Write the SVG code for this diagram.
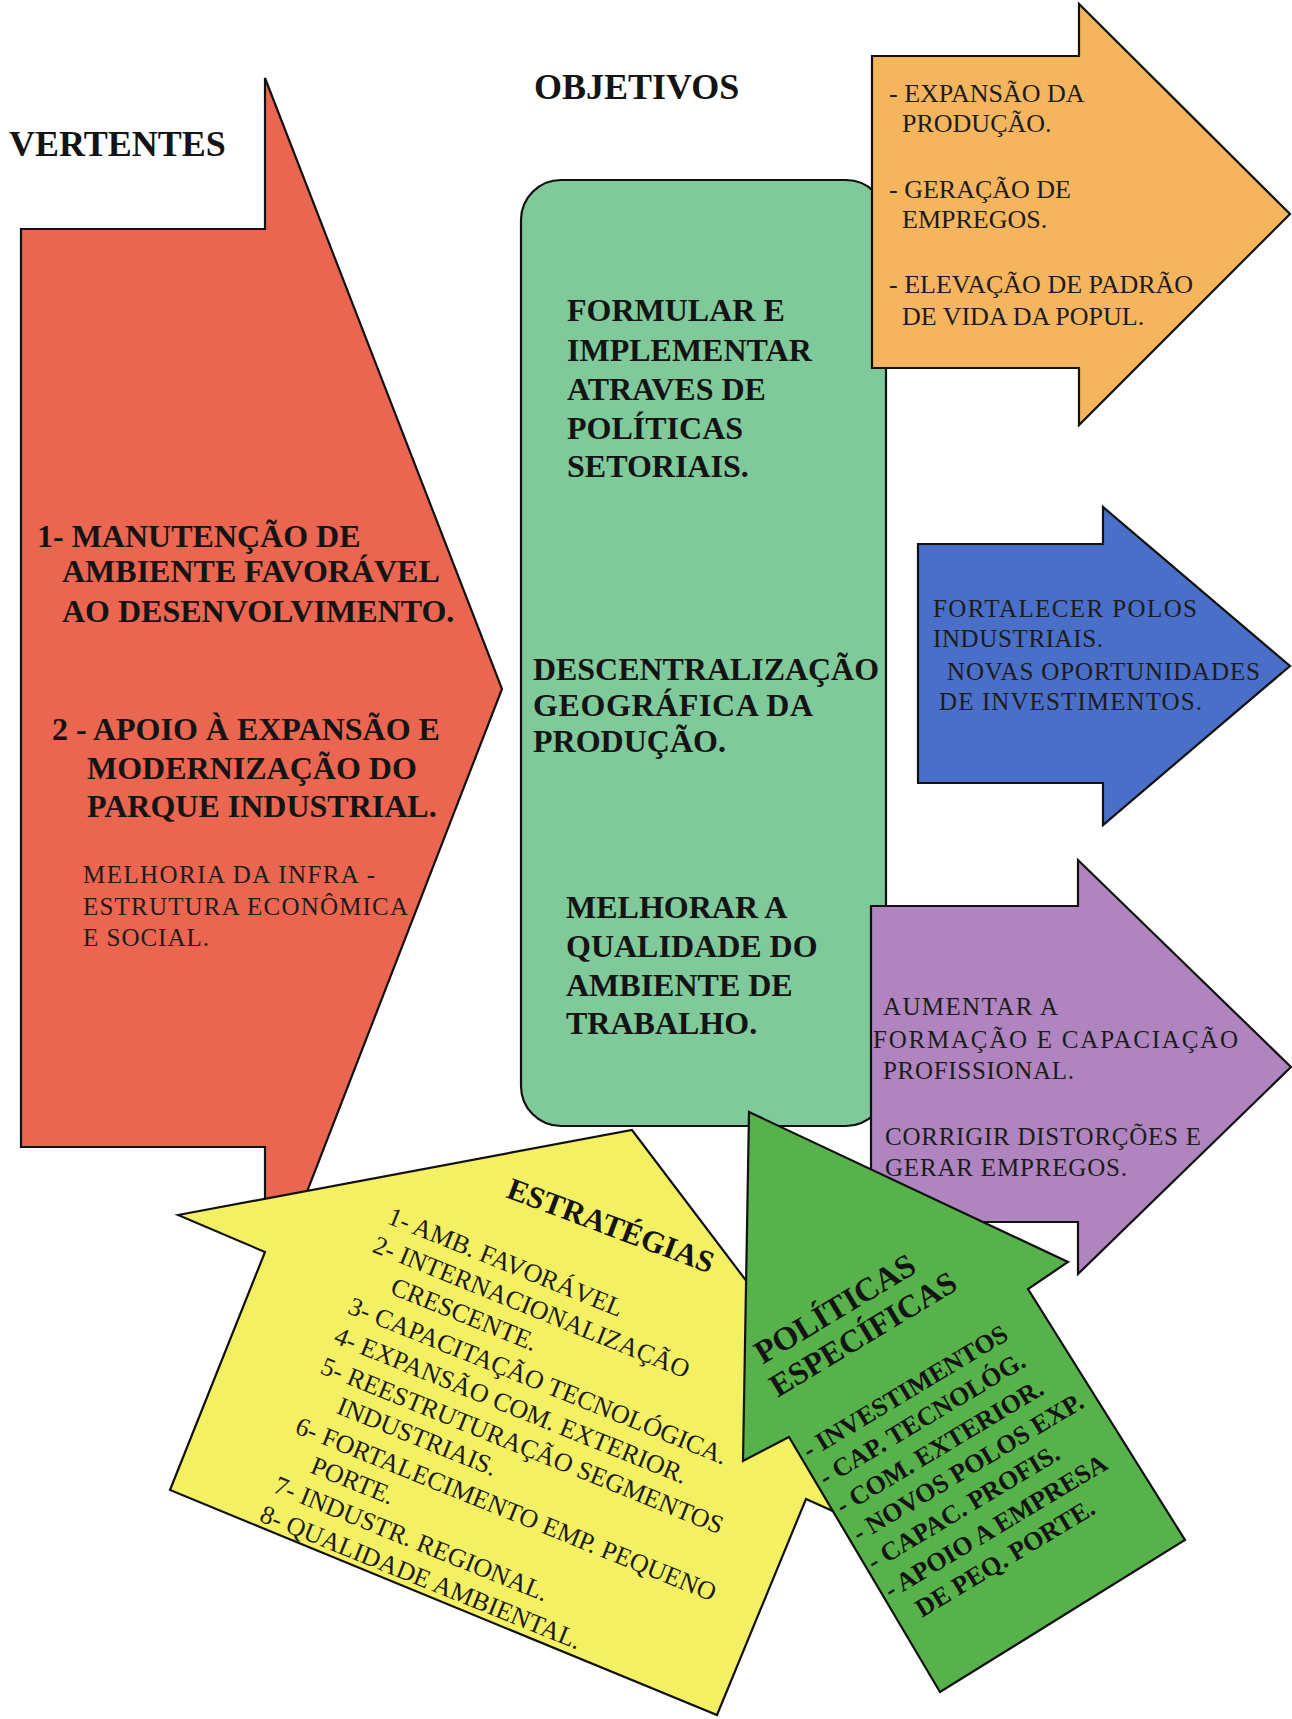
<svg xmlns="http://www.w3.org/2000/svg" width="1292" height="1719" viewBox="0 0 1292 1719">
<style>
.shape{stroke:#111;stroke-width:2.2;stroke-linejoin:miter}
.b{font-family:"Liberation Serif","Times New Roman",serif;font-weight:bold;fill:#141414}
.r{font-family:"Liberation Serif","Times New Roman",serif;fill:#1c1c1c}
.h{font-size:36px}
.t32{font-size:32px}
.t26{font-size:26px}
.t25{font-size:25px}
</style>
<rect width="1292" height="1719" fill="#ffffff"/>
<g id="label-vertentes"><text class="b h" x="9" y="156">VERTENTES</text></g>
<g id="label-objetivos"><text class="b h" x="534" y="99">OBJETIVOS</text></g>

<g id="vertentes">
<polygon class="shape" fill="#EA6650" points="21,229 265,229 265,78 502,689 265,1300 265,1147 21,1147"/>
<text class="b t32" x="37" y="547">1- MANUTENÇÃO DE</text>
<text class="b t32" x="62" y="582">AMBIENTE FAVORÁVEL</text>
<text class="b t32" x="62" y="622">AO DESENVOLVIMENTO.</text>
<text class="b t32" x="52" y="740">2 - APOIO À EXPANSÃO E</text>
<text class="b t32" x="87" y="779">MODERNIZAÇÃO DO</text>
<text class="b t32" x="87" y="817">PARQUE INDUSTRIAL.</text>
<text class="r t25" x="83" y="883" textLength="292" lengthAdjust="spacing">MELHORIA DA INFRA -</text>
<text class="r t25" x="83" y="915" textLength="325" lengthAdjust="spacing">ESTRUTURA ECONÔMICA</text>
<text class="r t25" x="83" y="946" textLength="126" lengthAdjust="spacing">E SOCIAL.</text>
</g>

<g id="objetivos">
<rect class="shape" fill="#80C99A" x="521" y="180" width="365" height="946" rx="40" ry="40"/>
<text class="b t32" x="567" y="321">FORMULAR E</text>
<text class="b t32" x="567" y="361">IMPLEMENTAR</text>
<text class="b t32" x="567" y="400">ATRAVES DE</text>
<text class="b t32" x="567" y="439">POLÍTICAS</text>
<text class="b t32" x="567" y="477">SETORIAIS.</text>
<text class="b t32" x="533" y="680" textLength="346" lengthAdjust="spacingAndGlyphs">DESCENTRALIZAÇÃO</text>
<text class="b t32" x="533" y="716" textLength="280" lengthAdjust="spacing">GEOGRÁFICA DA</text>
<text class="b t32" x="533" y="752">PRODUÇÃO.</text>
<text class="b t32" x="566" y="918">MELHORAR A</text>
<text class="b t32" x="566" y="957">QUALIDADE DO</text>
<text class="b t32" x="566" y="996">AMBIENTE DE</text>
<text class="b t32" x="566" y="1034">TRABALHO.</text>
</g>

<g id="objetivo-producao">
<polygon class="shape" fill="#F4B55E" points="872,56 1079,56 1079,4 1290,214 1079,425 1079,368 872,368"/>
<text class="r t26" x="889" y="102">- EXPANSÃO DA</text>
<text class="r t26" x="902" y="132">PRODUÇÃO.</text>
<text class="r t26" x="889" y="198">- GERAÇÃO DE</text>
<text class="r t26" x="902" y="228">EMPREGOS.</text>
<text class="r t26" x="889" y="293">- ELEVAÇÃO DE PADRÃO</text>
<text class="r t26" x="902" y="325">DE VIDA DA POPUL.</text>
</g>

<g id="objetivo-polos">
<polygon class="shape" fill="#4A6FC8" points="918,544 1103,544 1103,507 1290,666 1103,825 1103,783 918,783"/>
<text class="r t25" x="933" y="617" textLength="264" lengthAdjust="spacing">FORTALECER POLOS</text>
<text class="r t25" x="933" y="647" textLength="170" lengthAdjust="spacing">INDUSTRIAIS.</text>
<text class="r t25" x="947" y="680" textLength="313" lengthAdjust="spacing">NOVAS OPORTUNIDADES</text>
<text class="r t25" x="939" y="710" textLength="263" lengthAdjust="spacing">DE INVESTIMENTOS.</text>
</g>

<g id="objetivo-trabalho">
<polygon class="shape" fill="#B084BE" points="871,906 1078,906 1078,860 1291,1067 1078,1274 1078,1222 871,1222"/>
<text class="r t25" x="883" y="1015" textLength="175" lengthAdjust="spacing">AUMENTAR A</text>
<text class="r t25" x="873" y="1048" textLength="365" lengthAdjust="spacing">FORMAÇÃO E CAPACIAÇÃO</text>
<text class="r t25" x="883" y="1079" textLength="191" lengthAdjust="spacing">PROFISSIONAL.</text>
<text class="r t25" x="885" y="1145" textLength="316" lengthAdjust="spacing">CORRIGIR DISTORÇÕES E</text>
<text class="r t25" x="885" y="1176" textLength="242" lengthAdjust="spacing">GERAR EMPREGOS.</text>
</g>

<g id="estrategias">
<polygon class="shape" fill="#F4F064" points="178,1215 632,1130 966,1571 806,1499 717,1715 170,1490 265,1252"/>
<text class="b" font-size="31" transform="rotate(20.5 505 1197)" x="505" y="1197">ESTRATÉGIAS</text>
<g transform="rotate(22 500 1200)">
<text class="r t26" x="403" y="1264">1- AMB. FAVORÁVEL</text>
<text class="r t26" x="400" y="1296">2- INTERNACIONALIZAÇÃO</text>
<text class="r t26" x="432" y="1328">CRESCENTE.</text>
<text class="r t26" x="400" y="1362">3- CAPACITAÇÃO TECNOLÓGICA.</text>
<text class="r t26" x="398" y="1395">4- EXPANSÃO COM. EXTERIOR.</text>
<text class="r t26" x="397" y="1428">5- REESTRUTURAÇÃO SEGMENTOS</text>
<text class="r t26" x="427" y="1459">INDUSTRIAIS.</text>
<text class="r t26" x="396" y="1493">6- FORTALECIMENTO EMP. PEQUENO</text>
<text class="r t26" x="425" y="1524">PORTE.</text>
<text class="r t26" x="398" y="1556">7- INDUSTR. REGIONAL.</text>
<text class="r t26" x="396" y="1588">8- QUALIDADE AMBIENTAL.</text>
</g>
</g>

<g id="politicas-especificas">
<polygon class="shape" fill="#58B24B" points="749,1112 1068,1262 1028,1289 1185,1540 940,1692 789,1437 743,1461"/>
<g transform="rotate(-31 780 1380)">
<text class="b" font-size="33" x="773" y="1358">POLÍTICAS</text>
<text class="b t32" x="769" y="1394">ESPECÍFICAS</text>
<text class="b t26" x="764" y="1463">- INVESTIMENTOS</text>
<text class="b t26" x="764" y="1495">- CAP. TECNOLÓG.</text>
<text class="b t26" x="764" y="1528">- COM. EXTERIOR.</text>
<text class="b t26" x="764" y="1560">- NOVOS POLOS EXP.</text>
<text class="b t26" x="762" y="1592">- CAPAC. PROFIS.</text>
<text class="b t26" x="762" y="1625">- APOIO A EMPRESA</text>
<text class="b t26" x="779" y="1657">DE PEQ. PORTE.</text>
</g>
</g>

<g id="connectors"></g>
</svg>
